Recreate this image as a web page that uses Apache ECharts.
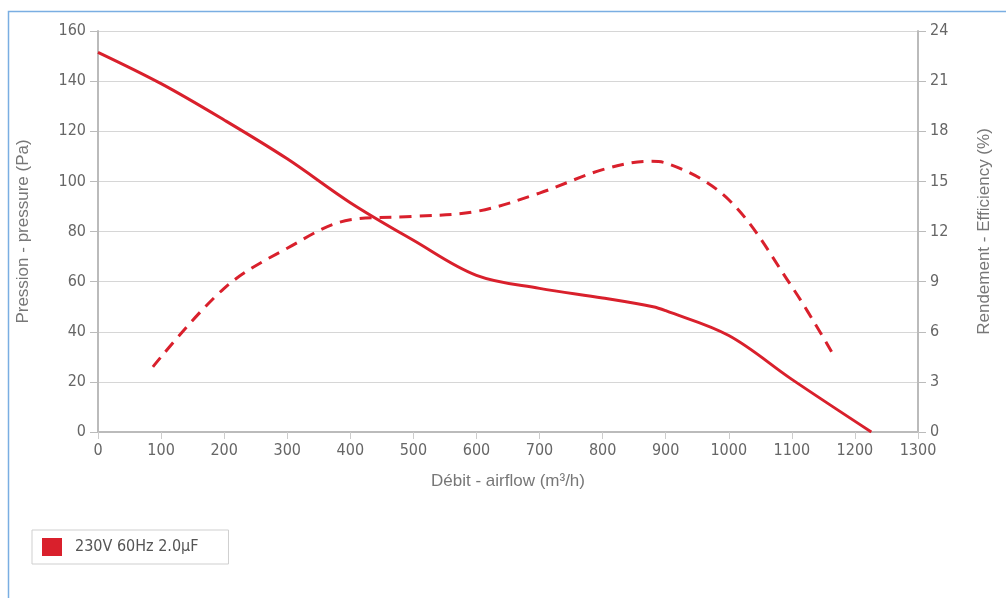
<!DOCTYPE html>
<html>
<head>
<meta charset="utf-8">
<script src="https://cdn.jsdelivr.net/npm/echarts@6/dist/echarts.min.js"></script>
<style>html,body{margin:0;padding:0;background:#fff;}#c{width:1006px;height:598px;}</style>
</head>
<body>
<div id="c"></div>
<script>
// Data
const seriesName = '230V 60Hz 2.0\u00b5F';
const pressureFlow = [0, 100, 200, 300, 400, 500, 600, 700, 800, 880, 900, 1000, 1100, 1226];
const pressureVals = [151.5, 139, 124.5, 109, 91.5, 76.5, 62.5, 57.3, 53.5, 50, 48.4, 38.5, 21, 0];
const effFlow = [87, 200, 300, 400, 500, 600, 700, 800, 875, 900, 1000, 1100, 1163];
const effVals = [3.9, 8.6, 11.0, 12.7, 12.9, 13.2, 14.3, 15.7, 16.2, 16.1, 13.9, 8.7, 4.8];
const xTicks = [0,100,200,300,400,500,600,700,800,900,1000,1100,1200,1300];

const chart = echarts.init(document.getElementById('c'));
const red = '#d9202c';
const labelFont = {color:'#666', fontSize:16, fontFamily:'Liberation Sans Narrow, Arial Narrow, DejaVu Sans Condensed, sans-serif'};
const titleFont = {color:'#777', fontSize:17, fontFamily:'Liberation Sans, Arial, sans-serif'};
chart.setOption({
  animation:false,
  backgroundColor:'#fff',
  graphic:[{type:'rect', shape:{x:8.5,y:11.5,width:1010,height:600}, style:{fill:'none', stroke:'#7aaee2', lineWidth:1.5}}],
  legend:{
    data:[seriesName], left:32, top:530, orient:'horizontal',
    itemWidth:20, itemHeight:18, icon:'rect', itemGap:8,
    padding:[8,30,8,10], borderColor:'#cfcfcf', borderWidth:1,
    textStyle:{color:'#555', fontSize:16, fontFamily:'Liberation Sans Narrow, Arial Narrow, DejaVu Sans Condensed, sans-serif', padding:[0,6,0,8]}
  },
  grid:{left:98, right:88, top:31, bottom:166, containLabel:false},
  xAxis:{
    type:'value', min:0, max:1300, interval:100,
    name:'D\u00e9bit - airflow (m\u00b3/h)', nameLocation:'middle', nameGap:41, nameTextStyle:titleFont,
    axisLine:{show:true, lineStyle:{color:'#bbb', width:2}},
    axisTick:{show:true, length:7, lineStyle:{color:'#ccc'}},
    axisLabel:Object.assign({margin:11, formatter:v=>String(v)}, labelFont),
    splitLine:{show:false}
  },
  yAxis:[{
    type:'value', min:0, max:160, interval:20,
    name:'Pression - pressure (Pa)', nameLocation:'middle', nameGap:66, nameRotate:90, nameTextStyle:titleFont,
    axisLine:{show:true, lineStyle:{color:'#bbb', width:2}},
    axisTick:{show:true, length:8, lineStyle:{color:'#bbb'}},
    axisLabel:Object.assign({margin:12}, labelFont),
    splitLine:{show:true, lineStyle:{color:'#d6d6d6', width:1}}
  },{
    type:'value', min:0, max:24, interval:3, position:'right',
    name:'Rendement - Efficiency (%)', nameLocation:'middle', nameGap:58, nameRotate:90, nameTextStyle:titleFont,
    axisLine:{show:true, lineStyle:{color:'#bbb', width:2}},
    axisTick:{show:true, length:8, lineStyle:{color:'#bbb'}},
    axisLabel:Object.assign({margin:12}, labelFont),
    splitLine:{show:false}
  }],
  series:[{
    name:seriesName, type:'line', yAxisIndex:0, smooth:0.35, showSymbol:false,
    itemStyle:{color:red}, lineStyle:{color:red, width:3},
    data:pressureFlow.map((x,i)=>[x, pressureVals[i]])
  },{
    name:seriesName, type:'line', yAxisIndex:1, smooth:0.35, showSymbol:false,
    itemStyle:{color:red}, lineStyle:{color:red, width:3, type:[12,8]},
    data:effFlow.map((x,i)=>[x, effVals[i]])
  }]
});
</script>
</body>
</html>
